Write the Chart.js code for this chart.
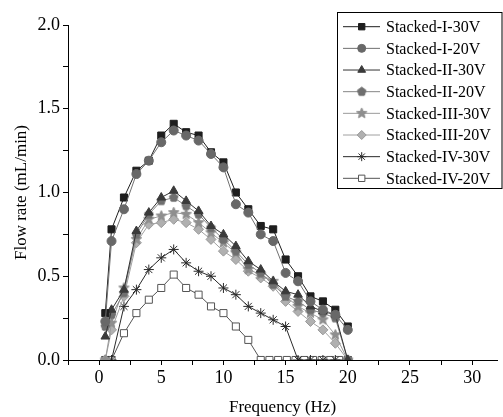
<!DOCTYPE html>
<html>
<head>
<meta charset="utf-8">
<script src="https://cdn.jsdelivr.net/npm/chart.js@4.4.0/dist/chart.umd.min.js"></script>
<style>
  html, body { margin: 0; padding: 0; background: #fff; }
</style>
</head>
<body>
<canvas id="flowChart" width="503" height="417"></canvas>
<script>
// frequency values (Hz)
const freq = [0.5, 1, 2, 3, 4, 5, 6, 7, 8, 9, 10, 11, 12, 13, 14, 15, 16, 17, 18, 19, 20];
const freqIV20 = [0.5, 1, 2, 3, 4, 5, 6, 7, 8, 9, 10, 11, 12, 13, 13.7, 14.4, 15.1, 15.8, 16.5, 17.2, 17.9, 18.6, 19.3, 20];

const seriesNames = ['Stacked-I-30V', 'Stacked-I-20V', 'Stacked-II-30V', 'Stacked-II-20V',
    'Stacked-III-30V', 'Stacked-III-20V', 'Stacked-IV-30V', 'Stacked-IV-20V'];

// flow rate (mL/min)
const stackedI30 = [0.28, 0.78, 0.97, 1.13, 1.19, 1.34, 1.41, 1.36, 1.34, 1.24, 1.18, 1.00, 0.90, 0.80, 0.78, 0.60, 0.50, 0.38, 0.35, 0.30, 0.20];
const stackedI20 = [0.23, 0.71, 0.90, 1.11, 1.19, 1.30, 1.37, 1.34, 1.31, 1.23, 1.15, 0.93, 0.88, 0.75, 0.71, 0.52, 0.47, 0.35, 0.30, 0.27, 0.18];
const stackedII30 = [0.14, 0.30, 0.42, 0.77, 0.88, 0.97, 1.01, 0.95, 0.89, 0.80, 0.75, 0.68, 0.59, 0.54, 0.47, 0.41, 0.39, 0.32, 0.29, 0.27, 0.00];
const stackedII20 = [0.20, 0.27, 0.40, 0.75, 0.87, 0.95, 0.97, 0.92, 0.87, 0.79, 0.72, 0.65, 0.57, 0.52, 0.45, 0.38, 0.35, 0.30, 0.28, 0.25, 0.00];
const stackedIII30 = [0.00, 0.22, 0.43, 0.72, 0.84, 0.86, 0.88, 0.87, 0.82, 0.76, 0.70, 0.64, 0.54, 0.51, 0.47, 0.38, 0.32, 0.28, 0.24, 0.15, 0.00];
const stackedIII20 = [0.00, 0.18, 0.38, 0.70, 0.81, 0.82, 0.84, 0.82, 0.78, 0.72, 0.65, 0.60, 0.53, 0.49, 0.44, 0.35, 0.29, 0.23, 0.18, 0.10, 0.00];
const stackedIV30 = [0, 0, 0.32, 0.42, 0.54, 0.61, 0.66, 0.58, 0.53, 0.50, 0.43, 0.39, 0.32, 0.28, 0.24, 0.20, 0, 0, 0, 0, 0];
const stackedIV20 = [0, 0, 0.16, 0.28, 0.36, 0.43, 0.51, 0.43, 0.39, 0.32, 0.28, 0.20, 0.12, 0, 0, 0, 0, 0, 0, 0, 0, 0, 0, 0];

const xTicksMin = -2.5, xTicksMax = 32;
const yTicksMin = 0, yTicksMax = 2;

const FONT = '"Liberation Serif", "Times New Roman", serif';

// custom marker shapes (pentagon, filled star)
function makeMarker(size, fill, stroke, pathFn) {
    const c = document.createElement('canvas');
    c.width = size;
    c.height = size;
    const g = c.getContext('2d');
    g.fillStyle = fill;
    g.strokeStyle = stroke;
    g.lineWidth = 1;
    g.beginPath();
    pathFn(g, size / 2, size / 2, size / 2 - 1);
    g.closePath();
    g.fill();
    g.stroke();
    return c;
}

function pentagon(g, cx, cy, r) {
    for (let i = 0; i < 5; i++) {
        const a = -Math.PI / 2 + i * 2 * Math.PI / 5;
        const px = cx + r * Math.cos(a), py = cy + r * Math.sin(a);
        i === 0 ? g.moveTo(px, py) : g.lineTo(px, py);
    }
}

function star(g, cx, cy, r) {
    for (let i = 0; i < 10; i++) {
        const a = -Math.PI / 2 + i * Math.PI / 5;
        const rr = i % 2 === 0 ? r : r * 0.45;
        const px = cx + rr * Math.cos(a), py = cy + rr * Math.sin(a);
        i === 0 ? g.moveTo(px, py) : g.lineTo(px, py);
    }
}

const pentaMarker = makeMarker(11, '#6f6f6f', '#6f6f6f', pentagon);
const starMarker = makeMarker(13, '#8e8e8e', '#8e8e8e', star);

function toPoints(xs, ys) {
    return ys.map((v, i) => ({ x: xs[i], y: v }));
}

const styles = [
    { line: '#1e1e1e', fill: '#1e1e1e', border: '#1e1e1e', shape: 'rect', r: 5 },
    { line: '#707070', fill: '#686868', border: '#686868', shape: 'circle', r: 4.5 },
    { line: '#333333', fill: '#3a3a3a', border: '#3a3a3a', shape: 'triangle', r: 5 },
    { line: '#858585', fill: '#6f6f6f', border: '#6f6f6f', shape: pentaMarker, r: 5 },
    { line: '#9a9a9a', fill: '#8e8e8e', border: '#8e8e8e', shape: starMarker, r: 5 },
    { line: '#a0a0a0', fill: '#b0b0b0', border: '#999999', shape: 'rectRot', r: 5 },
    { line: '#2a2a2a', fill: '#2a2a2a', border: '#2a2a2a', shape: 'star', r: 5 },
    { line: '#555555', fill: '#ffffff', border: '#555555', shape: 'rect', r: 5 }
];

const seriesValues = [stackedI30, stackedI20, stackedII30, stackedII20, stackedIII30, stackedIII20, stackedIV30, stackedIV20];

const datasets = seriesValues.map((vals, i) => ({
    label: seriesNames[i],
    data: toPoints(i === 7 ? freqIV20 : freq, vals),
    borderColor: styles[i].line,
    borderWidth: 1,
    pointStyle: styles[i].shape,
    pointRadius: styles[i].r,
    pointBackgroundColor: styles[i].fill,
    pointBorderColor: styles[i].border,
    pointBorderWidth: 1,
    tension: 0,
    fill: false,
    order: i === 1 ? -1 : 0,
    clip: { left: false, top: false, right: false, bottom: 0 }
}));

// boxed legend with line + marker, drawn on the canvas
const boxLegend = {
    id: 'boxLegend',
    afterDraw(chart) {
        const ctx = chart.ctx;
        ctx.save();
        ctx.fillStyle = '#fff';
        ctx.fillRect(337, 12, 166, 177);
        ctx.strokeStyle = '#000';
        ctx.lineWidth = 1;
        ctx.strokeRect(337.5, 12.5, 164.5, 176);
        chart.data.datasets.forEach((ds, i) => {
            const y = 26.7 + i * 21.66;
            ctx.strokeStyle = ds.borderColor;
            ctx.lineWidth = 1;
            ctx.beginPath();
            ctx.moveTo(343, y);
            ctx.lineTo(380, y);
            ctx.stroke();
            ctx.fillStyle = ds.pointBackgroundColor;
            ctx.strokeStyle = ds.pointBorderColor;
            Chart.helpers.drawPoint(ctx, {
                pointStyle: ds.pointStyle,
                radius: ds.pointRadius - 0.5,
                borderWidth: 1,
                rotation: 0
            }, 361.7, y);
            ctx.fillStyle = '#000';
            ctx.font = '16px ' + FONT;
            ctx.textBaseline = 'middle';
            ctx.fillText(ds.label, 386, y + 1);
        });
        ctx.restore();
    }
};

const ctx = document.getElementById('flowChart').getContext('2d');
const flowChart = new Chart(ctx, {
    type: 'line',
    data: { datasets: datasets },
    plugins: [boxLegend],
    options: {
        responsive: false,
        animation: false,
        devicePixelRatio: 1,
        layout: { padding: { top: 25, right: 0, left: 0, bottom: 0 } },
        plugins: {
            legend: { display: false },
            tooltip: { enabled: false }
        },
        scales: {
            x: {
                type: 'linear',
                min: xTicksMin,
                max: xTicksMax,
                afterFit: s => { s.height = 57; },
                ticks: {
                    stepSize: 2.5,
                    includeBounds: false,
                    autoSkip: false,
                    maxRotation: 0,
                    padding: 2,
                    color: '#000',
                    font: { family: FONT, size: 18 },
                    callback: v => (v % 5 === 0 ? String(v) : '')
                },
                grid: { drawOnChartArea: false, drawTicks: true, tickLength: 5, color: '#000' },
                border: { display: true, color: '#000', width: 1 },
                title: {
                    display: true,
                    text: 'Frequency (Hz)',
                    color: '#000',
                    font: { family: FONT, size: 17, lineHeight: 1 },
                    padding: { top: 0, bottom: 0.5 }
                }
            },
            y: {
                min: yTicksMin,
                max: yTicksMax,
                afterFit: s => { s.width = 68; },
                ticks: {
                    stepSize: 0.25,
                    autoSkip: false,
                    padding: 3,
                    color: '#000',
                    font: { family: FONT, size: 18 },
                    callback: v => (Math.abs(v * 2 - Math.round(v * 2)) < 1e-9 ? v.toFixed(1) : '')
                },
                grid: { drawOnChartArea: false, drawTicks: true, tickLength: 5, color: '#000' },
                border: { display: true, color: '#000', width: 1 },
                title: {
                    display: true,
                    text: 'Flow rate (mL/min)',
                    color: '#000',
                    font: { family: FONT, size: 17, lineHeight: 1 },
                    padding: { top: 13, bottom: 0 }
                }
            }
        }
    }
});
</script>
</body>
</html>
